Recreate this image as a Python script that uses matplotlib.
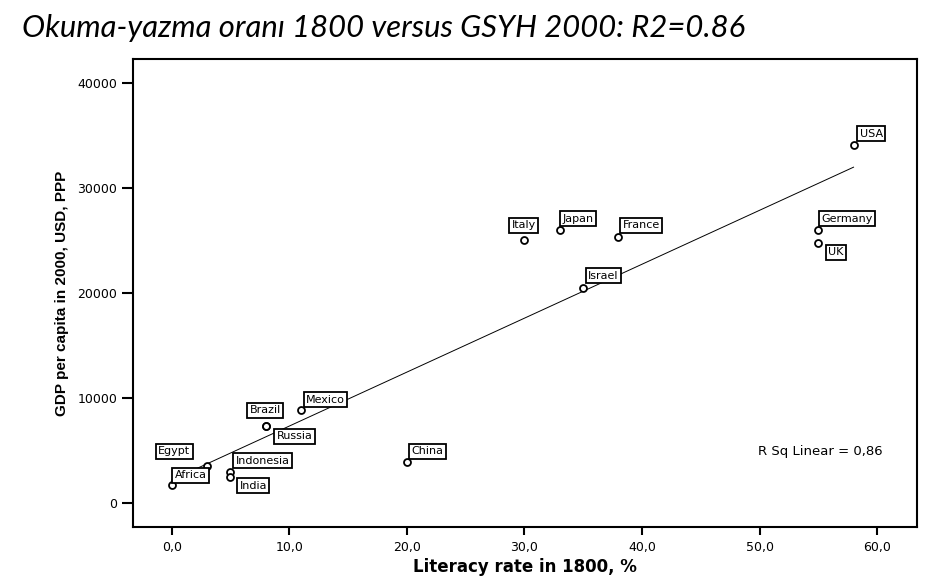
import numpy as np
import matplotlib
matplotlib.use('Agg')
import matplotlib.pyplot as plt
from matplotlib.ticker import FixedLocator, FuncFormatter

countries = ['USA', 'Germany', 'UK', 'Japan', 'France', 'Italy', 'Israel', 'Mexico',
             'Brazil', 'Russia', 'Egypt', 'Africa', 'Indonesia', 'India', 'China']
literacy = [58, 55, 55, 33, 38, 30, 35, 11, 8, 8, 3, 0, 5, 5, 20]
gdp = [34100, 26000, 24700, 26000, 25300, 25000, 20500, 8900, 7300, 7300, 3500, 1700, 3000, 2500, 3900]

x_ticks = [0, 10, 20, 30, 40, 50, 60]
y_ticks = [0, 10000, 20000, 30000, 40000]

# label box offsets (pixels, lower-left corner relative to point)
label_offsets = {
    'USA': (3, 3), 'Germany': (0, 3), 'UK': (7, -17), 'Japan': (0, 3),
    'France': (1, 4), 'Italy': (-16, 7), 'Israel': (2, 4), 'Mexico': (2, 2),
    'Brazil': (-19, 8), 'Russia': (8, -18), 'Egypt': (-52, 7), 'Africa': (0, 2),
    'Indonesia': (2, 3), 'India': (6, -17), 'China': (2, 3),
}

plt.rcParams['font.family'] = ['DejaVu Sans']

fig = plt.figure(figsize=(9.31, 5.79), dpi=100)
ax = fig.add_axes([0.1425, 0.0898, 0.8425, 0.8082])

x = np.array(literacy, dtype=float)
y = np.array(gdp, dtype=float)
slope, intercept = np.polyfit(x, y, 1)
r2 = np.corrcoef(x, y)[0, 1] ** 2
xs = np.array([x.min(), x.max()])
ax.plot(xs, slope * xs + intercept, color='black', lw=0.7, zorder=1)

ax.plot(x, y, 'o', ms=5, mfc='white', mec='black', mew=1.3, zorder=2)

for name, xx, yy in zip(countries, literacy, gdp):
    dx, dy = label_offsets[name]
    ax.annotate(name, (xx, yy), xytext=(dx + 3, dy + 3), textcoords='offset pixels',
                ha='left', va='bottom', fontsize=8,
                bbox=dict(boxstyle='square,pad=0.22', fc='white', ec='black', lw=1.3),
                zorder=3)

ax.text(60.45, 4900, 'R Sq Linear = %s' % ('%.2f' % r2).replace('.', ','),
        ha='right', va='center', fontsize=9.5)

ax.set_xlim(-3.32, 63.4)
ax.set_ylim(-2280, 42250)
ax.xaxis.set_major_locator(FixedLocator(x_ticks))
ax.yaxis.set_major_locator(FixedLocator(y_ticks))
ax.xaxis.set_major_formatter(FuncFormatter(lambda v, p: ('%.1f' % v).replace('.', ',')))
ax.yaxis.set_major_formatter(FuncFormatter(lambda v, p: '%d' % v))
ax.tick_params(axis='y', length=8, width=1.5, labelsize=9, pad=3)
ax.tick_params(axis='x', length=6, width=1.5, labelsize=9, pad=4)
for s in ax.spines.values():
    s.set_linewidth(1.5)

ax.set_xlabel('Literacy rate in 1800, %', fontsize=12, fontweight='bold', labelpad=3)
ax.set_ylabel('GDP per capita in 2000, USD, PPP', fontsize=11, fontweight='bold', labelpad=6,
              family=['Liberation Sans', 'DejaVu Sans'])

fig.text(0.024, 0.951, 'Okuma-yazma oranı 1800 versus GSYH 2000: R2=0.86',
         fontsize=22.3, style='italic', family=['Lato', 'DejaVu Sans'], ha='left', va='center')

fig.savefig('out.png', dpi=100)
